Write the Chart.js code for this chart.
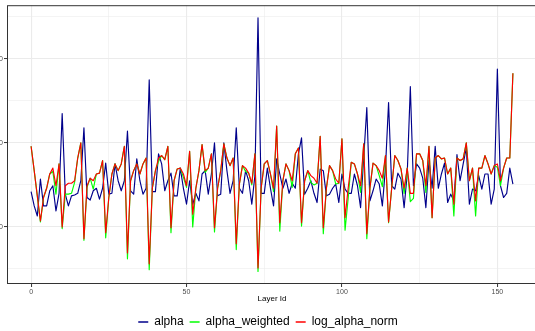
<!DOCTYPE html>
<html>
<head>
<meta charset="utf-8">
<script src="https://cdn.jsdelivr.net/npm/chart.js@4.4.1/dist/chart.umd.min.js"></script>
<style>
  html, body { margin: 0; padding: 0; background: #fff; overflow: hidden; }
  body { width: 535px; height: 331px; position: relative; }
  #wrap { position: absolute; left: -30px; top: 0; width: 596px; height: 338px; }
</style>
</head>
<body>
<div id="wrap"><canvas id="chart"></canvas></div>
<script>
// values, one per layer
const alpha = [
  14.2, 12.5, 11.3, 15.7, 12.5, 12.5, 14.3, 14.9, 11.9, 14.0,
  23.5, 13.9, 12.5, 13.7, 13.8, 14.0, 15.5, 21.8, 13.5, 13.2,
  14.3, 14.6, 13.3, 14.6, 17.6, 13.9, 14.0, 17.5, 15.5, 14.3,
  15.5, 21.4, 14.3, 13.9, 18.1, 15.5, 13.9, 14.6, 27.5, 14.2,
  14.2, 18.7, 17.5, 14.3, 15.5, 16.4, 13.7, 13.7, 17.0, 14.6,
  12.7, 15.5, 12.7, 14.0, 13.1, 16.3, 16.7, 13.9, 16.3, 20.0,
  13.7, 13.9, 20.0, 16.7, 14.0, 15.5, 21.8, 14.6, 14.0, 16.7,
  15.5, 12.7, 16.1, 34.9, 14.0, 14.0, 17.0, 14.6, 12.5, 18.1,
  16.3, 14.6, 15.7, 14.0, 15.2, 14.6, 18.7, 20.6, 13.9, 14.6,
  15.5, 14.0, 12.9, 16.9, 16.7, 13.7, 13.9, 14.6, 15.1, 12.9,
  16.3, 14.5, 14.0, 14.0, 16.3, 14.9, 12.3, 18.2, 24.2, 13.1,
  14.3, 15.7, 15.1, 12.5, 17.0, 24.8, 14.9, 14.5, 16.4, 15.7,
  12.3, 16.3, 26.7, 14.9, 17.5, 17.0, 15.8, 12.3, 17.9, 14.6,
  19.6, 14.6, 16.3, 17.6, 12.9, 13.9, 13.1, 18.6, 15.5, 17.5,
  19.4, 12.7, 14.5, 14.3, 16.1, 14.5, 16.3, 16.3, 12.7, 14.5,
  28.8, 14.9, 13.5, 14.0, 17.0, 15.1
];
const alphaWeighted = [
  19.6, 16.7, 13.7, 10.6, 13.5, 14.6, 16.3, 16.6, 13.9, 17.5,
  9.8, 13.9, 13.9, 14.0, 15.3, 18.2, 20.0, 8.4, 14.7, 15.8,
  14.5, 16.3, 16.4, 17.9, 8.7, 13.5, 16.3, 17.5, 16.7, 17.5,
  19.6, 6.2, 15.5, 16.7, 17.5, 16.3, 17.5, 18.2, 4.9, 14.6,
  16.7, 17.8, 18.5, 18.0, 19.6, 9.3, 15.5, 16.9, 17.0, 15.9,
  14.7, 19.0, 10.0, 14.6, 16.7, 19.8, 16.5, 17.0, 18.7, 9.4,
  14.6, 16.7, 19.9, 18.2, 17.3, 18.2, 7.3, 15.1, 17.3, 16.6,
  16.4, 15.0, 18.7, 4.7, 14.6, 17.5, 17.9, 16.3, 14.2, 22.0,
  9.5, 15.5, 17.5, 16.7, 14.7, 18.7, 19.4, 10.1, 15.5, 16.7,
  15.3, 15.0, 15.2, 20.8, 9.2, 14.6, 17.3, 16.7, 15.1, 15.2,
  20.5, 9.6, 13.4, 17.7, 17.5, 16.3, 14.1, 19.9, 8.6, 14.6,
  17.6, 17.3, 16.1, 14.8, 18.5, 10.5, 14.6, 18.5, 17.9, 16.9,
  14.0, 17.0, 13.0, 13.4, 18.7, 18.7, 17.9, 14.1, 19.6, 11.1,
  18.2, 18.5, 18.1, 18.2, 16.3, 17.0, 11.3, 18.2, 17.9, 18.1,
  20.0, 15.5, 17.0, 11.3, 17.0, 17.0, 18.5, 17.5, 16.3, 17.3,
  17.1, 14.9, 17.0, 18.2, 18.2, 28.3
];
const logAlphaNorm = [
  19.6, 16.7, 13.7, 10.7, 13.5, 14.6, 16.3, 17.0, 14.9, 17.5,
  10.0, 14.9, 15.2, 15.2, 15.5, 18.2, 20.0, 8.6, 14.9, 15.8,
  15.5, 16.3, 16.4, 17.9, 9.3, 13.5, 16.3, 17.5, 16.7, 17.5,
  19.6, 6.9, 15.5, 16.7, 17.5, 16.3, 17.5, 18.2, 5.6, 14.6,
  16.7, 18.2, 18.5, 18.0, 19.6, 9.9, 15.5, 16.9, 17.0, 16.3,
  14.9, 19.0, 11.5, 14.6, 16.7, 19.8, 16.7, 17.0, 18.7, 9.9,
  14.6, 16.7, 19.9, 18.2, 17.3, 18.2, 8.0, 15.1, 17.3, 17.0,
  16.4, 15.2, 18.7, 5.1, 14.6, 17.5, 17.9, 16.3, 14.6, 22.0,
  10.5, 15.5, 17.5, 16.7, 15.5, 18.7, 19.4, 10.5, 15.5, 16.7,
  16.1, 15.8, 15.2, 20.8, 9.9, 14.6, 17.3, 16.7, 15.7, 15.2,
  20.5, 11.1, 14.6, 17.7, 17.5, 16.3, 14.9, 19.9, 9.2, 14.6,
  17.6, 17.3, 16.7, 15.8, 18.5, 10.6, 14.6, 18.5, 17.9, 16.9,
  14.6, 17.0, 14.0, 14.0, 18.7, 18.7, 17.9, 14.9, 19.6, 11.1,
  18.2, 18.5, 18.1, 18.2, 16.3, 17.0, 12.7, 18.2, 17.9, 18.1,
  20.0, 15.5, 17.0, 13.1, 17.0, 17.0, 18.5, 17.5, 16.3, 17.3,
  17.5, 15.5, 17.0, 18.2, 18.2, 28.3
];
const layerIds = alpha.map((_, i) => i);

const xTicks = [0, 25, 50, 75, 100, 125, 150];
const xMajor = [0, 50, 100, 150];
const yTicks = [5, 10, 15, 20, 25, 30, 35];
const yMajor = [10, 20, 30];

const toPoints = (vals) => vals.map((v, i) => ({ x: layerIds[i], y: v }));
const isMajorX = (v) => xMajor.includes(v);
const isMajorY = (v) => yMajor.includes(v);
const font = "'Liberation Sans', Arial, Helvetica, sans-serif";

// ggplot-like panel border on all four sides
const panelBorder = {
  id: 'panelBorder',
  afterDraw(chart) {
    const { ctx, chartArea: a } = chart;
    ctx.save();
    ctx.strokeStyle = '#333333';
    ctx.lineWidth = 1;
    ctx.strokeRect(a.left + 0.5, a.top + 0.5, a.right - a.left - 1, a.bottom - a.top - 1);
    ctx.restore();
  }
};

new Chart(document.getElementById('chart'), {
  type: 'line',
  data: {
    datasets: [
      { label: 'alpha', data: toPoints(alpha), borderColor: '#00008B', backgroundColor: '#00008B', order: 3 },
      { label: 'alpha_weighted', data: toPoints(alphaWeighted), borderColor: '#00FF00', backgroundColor: '#00FF00', order: 2 },
      { label: 'log_alpha_norm', data: toPoints(logAlphaNorm), borderColor: '#FF0000', backgroundColor: '#FF0000', order: 1 }
    ]
  },
  options: {
    responsive: true,
    maintainAspectRatio: false,
    animation: false,
    devicePixelRatio: 1,
    layout: { padding: { top: 5, bottom: 0, left: 0, right: 0 } },
    elements: {
      point: { radius: 0, hoverRadius: 0 },
      line: { borderWidth: 1.15, tension: 0, borderJoinStyle: 'round', fill: false }
    },
    plugins: {
      tooltip: { enabled: false },
      legend: {
        position: 'bottom',
        labels: {
          font: { family: font, size: 12 },
          color: '#000000',
          boxWidth: 10,
          boxHeight: 1.5,
          padding: 6,
          generateLabels: (chart) => chart.data.datasets.map((ds, i) => ({
            text: ds.label,
            fillStyle: ds.borderColor,
            strokeStyle: ds.borderColor,
            lineWidth: 0,
            hidden: false,
            datasetIndex: i
          }))
        }
      }
    },
    scales: {
      x: {
        type: 'linear',
        min: -7.75,
        max: 162.75,
        afterBuildTicks: (s) => { s.ticks = xTicks.map(v => ({ value: v })); },
        afterFit: (s) => { s.height = 26; },
        grid: {
          color: '#EBEBEB',
          lineWidth: (c) => isMajorX(c.tick && c.tick.value) ? 1.1 : 0.55,
          tickColor: (c) => isMajorX(c.tick && c.tick.value) ? '#333333' : 'rgba(0,0,0,0)',
          tickLength: 3,
          tickWidth: 1
        },
        border: { display: false },
        ticks: {
          autoSkip: false,
          maxRotation: 0,
          padding: 1,
          color: '#4D4D4D',
          font: { family: font, size: 7 },
          callback: (v) => isMajorX(v) ? String(v) : ''
        },
        title: {
          display: true,
          text: 'Layer Id',
          color: '#000000',
          font: { family: font, size: 8 },
          padding: { top: 0, bottom: 6 }
        }
      },
      y: {
        type: 'linear',
        min: 3.2,
        max: 36.4,
        afterBuildTicks: (s) => { s.ticks = yTicks.map(v => ({ value: v })); },
        afterFit: (s) => { s.width = 37; },
        grid: {
          color: '#EBEBEB',
          lineWidth: (c) => isMajorY(c.tick && c.tick.value) ? 1.1 : 0.55,
          tickColor: (c) => isMajorY(c.tick && c.tick.value) ? '#333333' : 'rgba(0,0,0,0)',
          tickLength: 3,
          tickWidth: 1
        },
        border: { display: false },
        ticks: {
          autoSkip: false,
          padding: 1,
          color: '#4D4D4D',
          font: { family: font, size: 7 },
          callback: (v) => isMajorY(v) ? String(v) : ''
        }
      },
      y2: {
        type: 'linear',
        position: 'right',
        afterFit: (s) => { s.width = 29; },
        grid: { display: false, drawTicks: false },
        border: { display: false },
        ticks: { display: false }
      }
    }
  },
  plugins: [panelBorder]
});
</script>
</body>
</html>
